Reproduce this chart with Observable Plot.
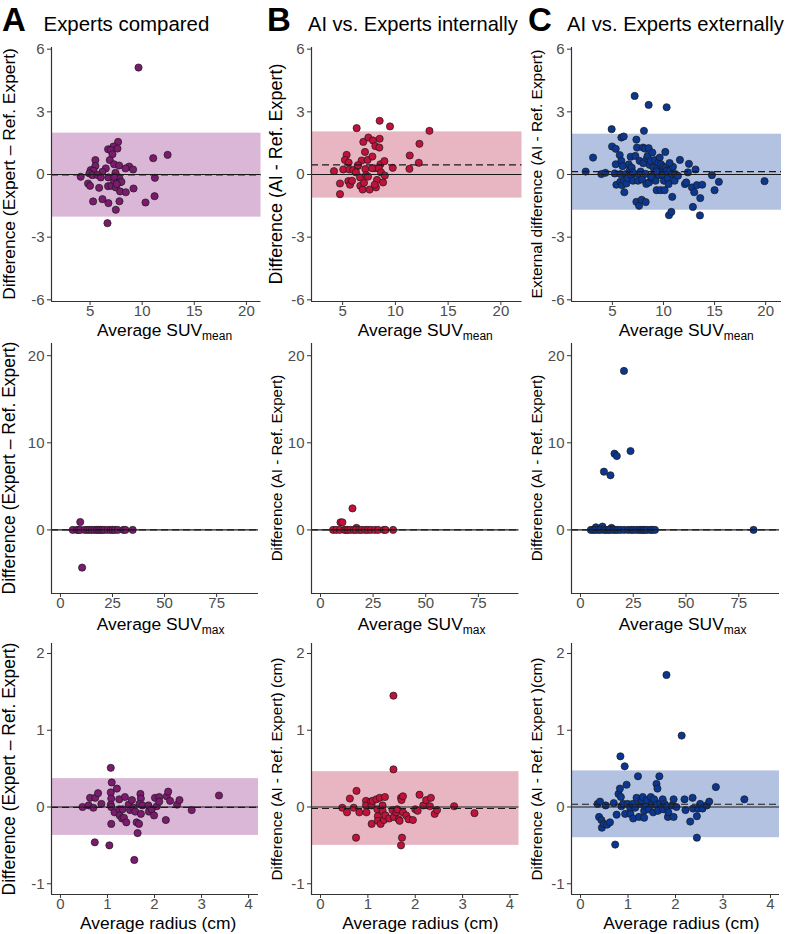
<!DOCTYPE html>
<html><head><meta charset="utf-8">
<script src="https://cdn.jsdelivr.net/npm/d3@7"></script>
<script src="https://cdn.jsdelivr.net/npm/@observablehq/plot@0.6"></script>
<style>
body{margin:0;background:#fff;font-family:"Liberation Sans",Arial,Helvetica,sans-serif;}
#root{position:relative;width:791px;height:934px;overflow:hidden;background:#fff;}
.abs{position:absolute;white-space:nowrap;line-height:1;color:#000;}
.letter{font-weight:bold;}
.yt{transform:translate(-50%,-50%) rotate(-90deg);}
.sub{font-size:12px;position:relative;top:4px;}
</style></head>
<body><div id="root"></div>
<script>
// ---------------- DATA ----------------
const panelLetters = ["A", "B", "C"];
const panelTitles = ["Experts compared", "AI vs. Experts internally", "AI vs. Experts externally"];
const yTitles = [
  ["Difference (Expert \u2013 Ref. Expert)", "Difference (AI - Ref. Expert)", "External difference (AI - Ref. Expert)"],
  ["Difference (Expert \u2013 Ref. Expert)", "Difference (AI - Ref. Expert)", "Difference (AI - Ref. Expert)"],
  ["Difference (Expert \u2013 Ref. Expert)", "Difference (AI - Ref. Expert) (cm)", "Difference (AI - Ref. Expert )(cm)"]
];
const xTitleMain = ["Average SUV", "Average SUV", "Average radius (cm)"];
const xTitleSub = ["mean", "max", ""];

const xTicksMean = [5, 10, 15, 20];
const yTicksMean = [-6, -3, 0, 3, 6];
const xTicksMax = [0, 25, 50, 75];
const yTicksMax = [0, 10, 20];
const xTicksRadius = [0, 1, 2, 3, 4];
const yTicksRadius = [-1, 0, 1, 2];

// Row 1: SUVmean  [average, difference]
const expSuvMean = [[9.65,5.12],[12.44,0.94],[11.06,0.78],[7.69,1.56],[7.24,1.34],[6.73,1.21],[6.99,1.16],[7.63,1.24],[7.15,0.97],[6.89,0.69],[5.51,0.69],[5.51,0.41],[7.31,0.49],[7.79,0.43],[8.75,0.38],[9.13,0.24],[8.40,0.29],[6.51,0.29],[6.19,0.13],[5.06,0.21],[5.32,0.18],[4.94,0.05],[5.22,-0.03],[5.71,-0.02],[6.03,-0.14],[7.44,0.08],[4.10,-0.11],[4.81,-0.43],[5.00,-0.54],[5.87,-0.64],[6.76,-0.14],[6.73,-0.56],[7.05,-0.54],[7.31,-0.30],[7.47,-0.62],[7.79,-0.14],[7.82,-0.38],[8.01,-0.35],[7.88,-0.81],[8.43,-0.85],[9.17,-0.67],[11.22,-0.16],[5.29,-1.29],[6.19,-1.18],[6.76,-1.37],[7.82,-1.28],[7.47,-1.69],[10.32,-1.34],[11.19,-1.04],[6.67,-2.33],[7.31,-0.11],[7.56,-0.46]];
const aiIntSuvMean = [[4.18,0.16],[4.75,-0.94],[4.75,-0.43],[5.38,0.94],[5.22,0.70],[5.57,0.57],[5.06,0.24],[5.63,0.24],[5.54,-0.32],[5.70,-0.49],[5.89,-0.30],[6.01,0.21],[6.33,2.22],[6.42,0.40],[6.80,0.67],[6.46,0.45],[6.27,0.10],[6.65,-0.14],[6.68,-0.54],[6.90,-0.72],[7.03,-0.40],[6.96,1.56],[7.12,1.08],[7.15,0.26],[7.22,-0.03],[7.44,1.77],[7.37,0.70],[7.41,-0.10],[7.56,-0.72],[7.82,0.86],[7.88,1.63],[8.01,0.30],[8.10,1.36],[8.16,-0.62],[8.26,-0.26],[8.51,2.57],[8.51,1.71],[8.48,1.29],[8.58,0.49],[8.42,0.29],[8.64,0.10],[8.83,-0.38],[8.96,0.64],[9.00,-0.05],[9.49,2.30],[9.75,0.32],[11.36,0.91],[11.33,0.27],[12.22,0.56],[12.28,1.47],[13.23,2.09],[7.79,0.30],[8.04,-0.49]];
const aiExtSuvMean = [[2.39,0.14],[3.11,0.81],[3.92,0.02],[4.32,0.08],[4.93,2.17],[4.97,1.34],[5.33,1.23],[5.33,0.49],[5.39,-0.49],[5.23,0.05],[5.72,0.93],[5.78,0.02],[5.88,1.77],[6.11,1.82],[5.88,0.65],[5.78,-0.35],[5.94,-0.51],[6.14,-0.30],[6.17,-0.85],[6.30,0.02],[6.37,-0.43],[6.47,-0.18],[6.60,0.48],[6.69,0.18],[6.79,0.85],[6.89,0.33],[6.86,-0.02],[7.02,-0.30],[7.18,3.76],[7.25,0.89],[7.35,1.67],[7.35,-1.31],[7.41,1.29],[7.51,0.02],[7.51,-0.30],[7.61,-1.50],[7.67,0.65],[7.77,0.14],[7.87,-1.21],[7.90,-0.24],[8.00,1.29],[8.03,0.54],[8.09,2.09],[8.19,1.24],[8.26,0.03],[8.26,-1.32],[8.32,-0.45],[8.39,0.78],[8.45,0.89],[8.55,3.33],[8.55,1.26],[8.58,-0.38],[8.65,0.46],[8.75,0.65],[8.84,-0.18],[8.91,1.05],[9.01,0.33],[9.07,0.02],[9.17,0.69],[9.23,-0.30],[9.33,-0.75],[9.40,0.33],[9.50,0.57],[9.56,-0.03],[9.63,0.81],[9.72,-0.75],[9.76,0.49],[9.82,0.18],[9.95,-0.03],[9.98,0.37],[10.05,-0.30],[10.11,-0.75],[10.18,1.08],[10.21,0.33],[10.31,3.22],[10.31,0.18],[10.41,-0.18],[10.50,-0.46],[10.54,-1.95],[10.67,0.21],[10.77,-1.79],[10.83,0.02],[10.86,-1.07],[10.93,0.37],[11.09,-0.30],[11.16,0.02],[11.42,-0.06],[11.61,0.70],[12.10,-0.46],[12.23,-0.38],[12.39,0.10],[12.49,0.51],[12.79,-0.62],[12.88,-1.55],[13.01,-0.85],[13.14,0.24],[13.27,-0.51],[13.60,-1.13],[13.57,-1.96],[13.79,-0.49],[14.74,-0.03],[15.00,-0.75],[15.42,-0.35],[19.89,-0.32],[6.0,0.40],[7.0,0.10],[8.8,-0.10],[9.3,0.15],[10.6,0.55]];

// Row 2: SUVmax
const expSuvMax = [[9.5,0.91],[10.4,-4.33],[5.9,0],[7.9,0],[8.7,0],[9.5,0],[11.6,0],[12.8,0],[13.9,0],[15.0,0],[16.3,0],[17.4,0],[18.2,0],[19.1,0],[20.0,0],[21.0,0],[22.6,0],[24.1,0],[25.0,0],[26.1,0],[27.5,0],[30.2,0],[31.2,0],[34.7,0]];
const aiIntSuvMax = [[15.2,2.47],[9.5,0.87],[10.4,0.87],[17.1,0.23],[6.0,0],[7.5,0],[9.2,0],[11.4,0],[12.2,0],[13.0,0],[14.2,0],[15.8,0],[16.8,0],[18.4,0],[19.5,0],[21.2,0],[22.5,0],[23.9,0],[25.8,0],[27.4,0],[30.1,0],[30.9,0],[34.5,0]];
const aiExtSuvMax = [[20.6,18.25],[23.7,9.05],[16.1,8.75],[17.2,8.48],[11.1,6.69],[14.2,6.27],[82.0,0],[7.3,0.30],[10.4,0.38],[14.7,0.23],[4.9,0],[6.0,0],[7.0,0],[8.4,0],[9.5,0],[11.1,0],[12.0,0],[13.1,0],[14.0,0],[15.5,0],[16.5,0],[17.6,0],[19.0,0],[20.7,0],[22.5,0],[24.0,0],[25.0,0],[26.5,0],[27.8,0],[28.8,0],[29.7,0],[30.5,0],[31.6,0],[33.2,0],[34.0,0],[35.3,0]];

// Row 3: radius (cm)
const expRadius = [[0.47,0.0],[0.60,0.02],[0.63,0.12],[0.70,-0.01],[0.74,0.12],[0.80,0.18],[0.73,-0.46],[0.87,0.04],[1.07,0.51],[1.09,0.32],[1.07,0.19],[1.08,0.11],[1.07,0.03],[1.08,0.0],[1.08,-0.22],[1.04,-0.50],[1.15,-0.07],[1.20,0.24],[1.25,0.10],[1.25,-0.03],[1.26,-0.11],[1.31,-0.15],[1.32,-0.03],[1.37,0.13],[1.35,-0.14],[1.40,-0.20],[1.45,0.03],[1.48,-0.04],[1.52,0.09],[1.55,-0.01],[1.59,-0.06],[1.62,-0.20],[1.64,-0.34],[1.57,-0.69],[1.67,-0.22],[1.70,0.17],[1.71,0.11],[1.71,-0.09],[1.68,0.04],[1.74,0.02],[1.87,0.02],[1.88,-0.06],[1.94,-0.03],[1.99,-0.11],[2.01,0.12],[2.05,0.01],[2.10,0.13],[2.10,0.07],[2.24,-0.17],[2.26,0.14],[2.29,0.20],[2.33,0.08],[2.48,0.03],[2.53,0.09],[2.79,-0.04],[3.37,0.15]];
const aiIntRadius = [[0.46,-0.01],[0.56,-0.07],[0.62,0.11],[0.70,-0.01],[0.76,0.21],[0.75,-0.40],[0.82,-0.07],[0.96,0.08],[0.96,0.02],[0.97,-0.07],[1.06,0.07],[1.08,0.02],[1.10,0.08],[1.08,-0.22],[1.18,0.10],[1.20,-0.03],[1.21,-0.12],[1.21,-0.18],[1.25,0.12],[1.27,-0.22],[1.31,0.02],[1.31,-0.05],[1.34,-0.17],[1.36,0.13],[1.37,-0.11],[1.45,-0.15],[1.52,-0.04],[1.54,1.45],[1.54,0.49],[1.55,-0.13],[1.60,-0.07],[1.62,-0.03],[1.65,-0.16],[1.67,-0.18],[1.70,0.12],[1.71,0.09],[1.72,-0.40],[1.70,-0.50],[1.74,0.14],[1.74,-0.07],[1.81,-0.11],[1.86,-0.16],[1.95,-0.17],[2.00,-0.03],[2.05,-0.05],[2.09,0.16],[2.17,0.02],[2.23,0.09],[2.31,0.01],[2.33,0.12],[2.41,-0.09],[2.46,-0.04],[2.82,0.01],[3.25,-0.08]];
const aiExtRadius = [[0.36,0.04],[0.41,0.07],[0.39,-0.13],[0.44,-0.17],[0.45,-0.27],[0.49,-0.22],[0.53,0.02],[0.56,-0.23],[0.62,-0.20],[0.70,0.05],[0.73,-0.49],[0.76,-0.10],[0.80,0.17],[0.84,0.66],[0.83,0.24],[0.85,0.13],[0.86,0.01],[0.90,0.04],[0.93,0.53],[0.94,-0.09],[0.97,0.29],[0.99,0.04],[1.05,-0.02],[1.05,-0.09],[1.10,0.04],[1.11,-0.15],[1.15,-0.01],[1.18,0.12],[1.21,0.40],[1.23,-0.13],[1.25,0.04],[1.29,0.08],[1.31,0.13],[1.34,-0.05],[1.34,-0.14],[1.37,0.01],[1.40,0.09],[1.44,-0.03],[1.48,0.13],[1.50,0.04],[1.53,-0.07],[1.55,0.10],[1.59,0.03],[1.60,0.30],[1.62,0.24],[1.63,-0.05],[1.66,0.40],[1.68,0.05],[1.73,0.10],[1.74,-0.03],[1.77,0.04],[1.81,1.72],[1.82,0.01],[1.84,-0.13],[1.85,-0.07],[1.93,0.02],[1.96,0.10],[1.96,-0.13],[2.02,0.00],[2.13,0.93],[2.19,0.10],[2.21,-0.04],[2.31,-0.19],[2.36,0.12],[2.37,-0.02],[2.45,-0.12],[2.45,-0.40],[2.48,-0.02],[2.52,0.04],[2.57,-0.02],[2.66,0.02],[2.71,0.07],[2.85,0.26],[3.45,0.10]];

// Bias (mean difference) and limits of agreement, per row [A, B, C]
const biasMean = [-0.02, 0.46, 0.14];
const loaLowerMean = [-2.04, -1.13, -1.71];
const loaUpperMean = [1.98, 2.04, 1.93];
const biasMax = [0, 0, 0];
const biasRadius = [-0.005, -0.02, 0.035];
const loaLowerRadius = [-0.37, -0.50, -0.40];
const loaUpperRadius = [0.37, 0.46, 0.47];

// ---------------- STYLE / LAYOUT ----------------
const dotColors = ["#7b1a6e", "#c1123c", "#0b3791"];
const bandColors = ["#dbb7d7", "#e8b5c3", "#b3c2e0"];
const FONT = "Liberation Sans, Arial, Helvetica, sans-serif";
const root = document.getElementById("root");

const colLeft = [50.5, 310.5, 571];
const rowGeom = [
  {top: 47, bottom: 301, right: [260, 521, 781]},
  {top: 343, bottom: 593, right: [257.5, 518, 779]},
  {top: 643, bottom: 894, right: [257.5, 518, 779]}
];
const xDomains = [
  [[1.3, 21.4], [2.05, 22.0], [1.0, 21.55]],
  [[-4.3, 95.1], [-4.27, 94.3], [-4.27, 94.3]],
  [[-0.19, 4.21], [-0.19, 4.19], [-0.19, 4.19]]
];
const yDomains = [[-6.08, 6.08], [-7.3, 21.4], [-1.14, 2.13]];
const xTicks = [xTicksMean, xTicksMax, xTicksRadius];
const yTicks = [yTicksMean, yTicksMax, yTicksRadius];
const rowData = [
  [expSuvMean, aiIntSuvMean, aiExtSuvMean],
  [expSuvMax, aiIntSuvMax, aiExtSuvMax],
  [expRadius, aiIntRadius, aiExtRadius]
];
const rowBias = [biasMean, biasMax, biasRadius];
const rowLo = [loaLowerMean, null, loaLowerRadius];
const rowHi = [loaUpperMean, null, loaUpperRadius];

function panel(r, c) {
  const g = rowGeom[r];
  const left = colLeft[c], right = g.right[c], top = g.top, bottom = g.bottom;
  const mL = 46, mR = 8, mT = 8, mB = 24;
  const xd = xDomains[r][c], yd = yDomains[r];
  const band = rowLo[r] ? [{lo: rowLo[r][c], hi: rowHi[r][c]}] : [];
  const fmt = d => String(d);
  const svg = Plot.plot({
    width: right - left + mL + mR,
    height: bottom - top + mT + mB,
    marginLeft: mL, marginRight: mR, marginTop: mT, marginBottom: mB,
    x: {domain: xd},
    y: {domain: yd},
    style: {fontFamily: FONT, fontSize: "15px", background: "transparent", overflow: "visible"},
    marks: [
      Plot.rect(band, {y1: "lo", y2: "hi", fill: bandColors[c]}),
      Plot.dot(rowData[r][c], {x: d => d[0], y: d => d[1], r: 3.6, fill: dotColors[c], stroke: "#1a1a1a", strokeWidth: 0.7}),
      Plot.ruleY([0], {stroke: "#1a1a1a", strokeWidth: 1.1}),
      Plot.ruleY([rowBias[r][c]], {stroke: "#1a1a1a", strokeWidth: 1.1, strokeDasharray: "7,4"}),
      Plot.axisX({ticks: xTicks[r], tickFormat: fmt, tickSize: 4, tickPadding: 0, label: null, fill: "#4d4d4d", stroke: "#333"}),
      Plot.axisY({ticks: yTicks[r], tickFormat: fmt, tickSize: 4, tickPadding: 3, label: null, fill: "#4d4d4d", stroke: "#333"}),
      Plot.ruleX([xd[0]], {stroke: "#333", strokeWidth: 1.2}),
      Plot.ruleY([yd[0]], {stroke: "#333", strokeWidth: 1.2})
    ]
  });
  svg.style.position = "absolute";
  svg.style.left = (left - mL) + "px";
  svg.style.top = (top - mT) + "px";
  root.appendChild(svg);
}

for (let r = 0; r < 3; r++) for (let c = 0; c < 3; c++) panel(r, c);

// ---------- text overlays ----------
const ctx = document.createElement("canvas").getContext("2d");
function fitSize(text, targetLen, bold) {
  ctx.font = (bold ? "bold " : "") + "100px " + FONT;
  return 100 * targetLen / ctx.measureText(text).width;
}
function addDiv(html, cls, css) {
  const d = document.createElement("div");
  d.className = "abs " + cls;
  d.innerHTML = html;
  Object.assign(d.style, css);
  root.appendChild(d);
  return d;
}
// panel letters & titles (baseline ~31)
const letterX = [2, 267, 528];
const titleX = [43.5, 308, 567];
const titleLen = [166, 210, 217];
panelLetters.forEach((L, i) => {
  addDiv(L, "letter", {left: letterX[i] + "px", top: (31 - 0.8465 * 33) + "px", fontSize: "33px"});
  const fs = fitSize(panelTitles[i], titleLen[i]);
  addDiv(panelTitles[i], "", {left: titleX[i] + "px", top: (31 - 0.8465 * fs) + "px", fontSize: fs + "px"});
});
// y-axis titles
const yTitleX = [10, 277, 537];
const yTitleLen = [[252, 221, 249], [253, 187, 187], [253, 223, 223]];
for (let r = 0; r < 3; r++) for (let c = 0; c < 3; c++) {
  const t = yTitles[r][c];
  const fs = fitSize(t, yTitleLen[r][c]);
  const cy = (rowGeom[r].top + rowGeom[r].bottom) / 2;
  addDiv(t, "yt", {left: yTitleX[c] + "px", top: cy + "px", fontSize: fs + "px"});
}
// x-axis titles
const xTitleBase = [336.5, 630.5, 929.5];
const xTitleLeft = [[97, 357.7, 618.7], [96.7, 357.7, 618.7], [80, 342.3, 603.3]];
for (let r = 0; r < 3; r++) for (let c = 0; c < 3; c++) {
  const fs = 17.4;
  const html = xTitleMain[r] + (xTitleSub[r] ? '<span class="sub">' + xTitleSub[r] + '</span>' : "");
  addDiv(html, "", {left: xTitleLeft[r][c] + "px", top: (xTitleBase[r] - 0.8465 * fs) + "px", fontSize: fs + "px"});
}
</script>
</body></html>
